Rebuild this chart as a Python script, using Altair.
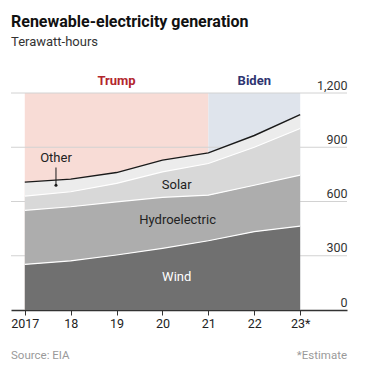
import altair as alt
import pandas as pd

years = [2017, 2018, 2019, 2020, 2021, 2022, 2023]
wind = [252, 272, 304, 341, 383, 433, 464]
hydro = [299, 299, 294, 282, 252, 257, 282]
solar = [79, 83, 102, 141, 175, 210, 258]
other = [77, 70, 60, 65, 59, 65, 77]

series_names = ["Wind", "Hydroelectric", "Solar", "Other"]
series_colors = ["#707070", "#adadad", "#d8d8d8", "#ececec"]

eras = ["Trump", "Biden"]
era_start = [2017, 2021]
era_end = [2021, 2023]
era_fill = ["#f8dcd6", "#dfe4ec"]
era_text = ["#b3262d", "#2e3470"]

y_ticks = [0, 300, 600, 900, 1200]

title_text = "Renewable-electricity generation"
subtitle_text = "Terawatt-hours"
source_text = "Source: EIA"
note_text = "*Estimate"

FONT = "Roboto"
W, H = 336, 217

# stacked bands
rows = []
for i, yr in enumerate(years):
    lo = 0
    for name, vals in zip(series_names, [wind, hydro, solar, other]):
        hi = lo + vals[i]
        rows.append({"year": yr, "series": name, "lo": lo, "hi": hi})
        lo = hi
bands = pd.DataFrame(rows)
bounds = bands[bands.series != "Other"]
totals = bands[bands.series == "Other"]

era_df = pd.DataFrame({"era": eras, "start": era_start, "end": era_end,
                       "mid": [(a + b) / 2 for a, b in zip(era_start, era_end)],
                       "fill": era_fill, "tcol": era_text})

xs = alt.Scale(domain=[2016.7, 2024.02], nice=False, zero=False)
ys = alt.Scale(domain=[0, 1200], nice=False)

x_axis = alt.Axis(values=years, grid=False, title=None,
                  labelExpr="datum.value == 2017 ? '2017' : (datum.value == 2023 ? '23*' : slice(toString(datum.value), 2))",
                  domainColor="#333333", domainWidth=1.5, tickColor="#333333",
                  tickSize=5, tickWidth=1, labelPadding=2, labelFontSize=12.5,
                  labelColor="#222222", labelFont=FONT)
y_axis = alt.Axis(values=y_ticks, orient="right", grid=False, domain=False,
                  ticks=False, tickSize=0, labelPadding=0, labelAlign="right",
                  labelBaseline="alphabetic", labelOffset=-4, title=None,
                  labelFontSize=12.5, labelColor="#333333", labelFont=FONT,
                  format=",d")

shade = alt.Chart(era_df).mark_rect().encode(
    x=alt.X("start:Q", scale=xs, axis=x_axis),
    x2="end:Q",
    y=alt.datum(0, scale=ys, axis=y_axis),
    y2=alt.datum(1200),
    color=alt.Color("fill:N", scale=None),
)

grid = alt.Chart(pd.DataFrame({"v": y_ticks[1:]})).mark_rule(
    color="#d2d2d2", strokeWidth=1).encode(y=alt.Y("v:Q", scale=ys))

areas = alt.Chart(bands).mark_area(interpolate="linear").encode(
    x=alt.X("year:Q", scale=xs),
    y=alt.Y("hi:Q", scale=ys),
    y2="lo:Q",
    color=alt.Color("series:N", scale=alt.Scale(domain=series_names, range=series_colors), legend=None),
)

blines = alt.Chart(bounds).mark_line(color="white", strokeWidth=1.2).encode(
    x=alt.X("year:Q", scale=xs), y=alt.Y("hi:Q", scale=ys), detail="series:N")

tline = alt.Chart(totals).mark_line(color="#1a1a1a", strokeWidth=1.4).encode(
    x=alt.X("year:Q", scale=xs), y=alt.Y("hi:Q", scale=ys))

era_labels = alt.Chart(era_df).mark_text(font=FONT, fontSize=13, fontWeight="bold",
                                         baseline="middle").encode(
    x=alt.X("mid:Q", scale=xs), y=alt.value(-12), text="era:N",
    color=alt.Color("tcol:N", scale=None))

lab_df = pd.DataFrame({
    "txt": ["Solar", "Hydroelectric", "Wind", "Other"],
    "x": [2020.31, 2020.33, 2020.31, 2017.68],
    "y": [691, 497, 182, 840],
    "c": ["#222222", "#222222", "#ffffff", "#222222"],
})
labels = alt.Chart(lab_df).mark_text(font=FONT, fontSize=13, baseline="middle").encode(
    x=alt.X("x:Q", scale=xs), y=alt.Y("y:Q", scale=ys), text="txt:N",
    color=alt.Color("c:N", scale=None))

ann_df = pd.DataFrame({"x": [2017.68], "y": [788], "y2": [690]})
ann_rule = alt.Chart(ann_df).mark_rule(color="#1a1a1a", strokeWidth=1).encode(
    x=alt.X("x:Q", scale=xs), y=alt.Y("y:Q", scale=ys), y2="y2:Q")
ann_dot = alt.Chart(ann_df).mark_circle(color="#1a1a1a", size=9, opacity=1).encode(
    x=alt.X("x:Q", scale=xs), y=alt.Y("y2:Q", scale=ys))

txt_df = pd.DataFrame({"k": [1]})
title_mark = alt.Chart(txt_df).mark_text(
    text=title_text, font=FONT, fontSize=16, fontWeight="bold", color="#111111",
    align="left", baseline="alphabetic").encode(x=alt.value(0), y=alt.value(-66))
subtitle_mark = alt.Chart(txt_df).mark_text(
    text=subtitle_text, font=FONT, fontSize=13, color="#333333",
    align="left", baseline="alphabetic").encode(x=alt.value(0), y=alt.value(-47))
foot_l = alt.Chart(txt_df).mark_text(
    text=source_text, font=FONT, fontSize=11.5, color="#9a9a9a",
    align="left", baseline="middle").encode(x=alt.value(0), y=alt.value(263))
foot_r = alt.Chart(txt_df).mark_text(
    text=note_text, font=FONT, fontSize=11.5, color="#9a9a9a",
    align="right", baseline="middle").encode(x=alt.value(W), y=alt.value(263))

topbar = alt.Chart(txt_df).mark_rule(color="#111111", strokeWidth=1.5).encode(
    x=alt.value(0), x2=alt.value(30), y=alt.value(-88.5))

chart = alt.layer(shade, grid, areas, blines, tline, era_labels, labels,
                  ann_rule, ann_dot, title_mark, subtitle_mark, foot_l, foot_r,
                  topbar).properties(
    width=W, height=H,
    autosize=alt.AutoSizeParams(type="none"),
    padding={"left": 3, "top": 85, "right": 10, "bottom": 58},
).configure_view(stroke=None)

chart.save("out.html", embed_options={"renderer": "svg", "actions": False})
